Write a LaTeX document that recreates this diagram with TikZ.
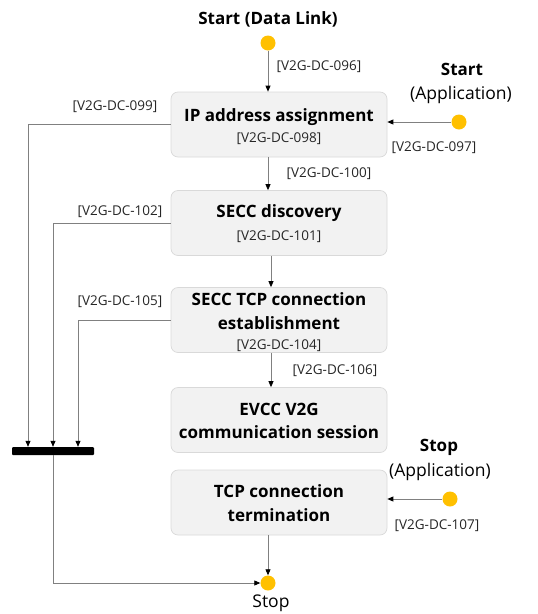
\documentclass[tikz,border=0pt]{standalone}
\usepackage{fontspec}
\setmainfont{Open Sans}
\usetikzlibrary{arrows.meta,calc}
\definecolor{boxfill}{HTML}{F2F2F2}
\definecolor{boxline}{HTML}{D9D9D9}
\definecolor{wire}{HTML}{808080}
\definecolor{dotgold}{HTML}{FFC000}
\tikzset{
  state/.style={draw=boxline, fill=boxfill, rounded corners=7pt, line width=0.7pt,
    minimum width=216pt, minimum height=65pt, inner sep=0pt},
  title/.style={font=\fontsize{17}{20}\selectfont\bfseries, inner sep=0pt},
  ref/.style={font=\fontsize{13.5}{16}\selectfont, inner sep=0pt, text=black!85},
  note/.style={font=\fontsize{17.5}{20}\selectfont, inner sep=0pt},
  pseudo/.style={circle, fill=dotgold, minimum size=15pt, inner sep=0pt},
  wireline/.style={draw=wire, line width=0.8pt},
  arr/.style={wireline, -{Triangle[length=6pt,width=5pt,color=black]}},
}
\begin{document}
\begin{tikzpicture}[x=1pt,y=-1pt]
\useasboundingbox (0,0) rectangle (538,614);

% states
\node[state] (ip)   at (279,124.5) {};
\node[state] (sd)   at (279,223) {};
\node[state] (tcp)  at (279,320) {};
\node[state] (evcc) at (279,420) {};
\node[state] (term) at (279,502.5) {};

\node[title] (ipT)  at (279,117) {IP address assignment};
\node[ref]   (ipR)  at (279,139) {[V2G-DC-098]};
\node[title] (sdT)  at (279,213) {SECC discovery};
\node[ref]   (sdR)  at (279,237) {[V2G-DC-101]};
\node[title] (tcpT1) at (279,299) {SECC TCP connection};
\node[title] (tcpT2) at (279,323) {establishment};
\node[ref]   (tcpR) at (279,346) {[V2G-DC-104]};
\node[title] (evT1) at (279,409) {EVCC V2G};
\node[title] (evT2) at (279,432) {communication session};
\node[title] (tmT1) at (279,491) {TCP connection};
\node[title] (tmT2) at (279,515) {termination};

% start / stop pseudo states
\node[pseudo] (sdl)  at (268,43) {};
\node[title]  (sdlL) at (268,19) {Start (Data Link)};
\node[pseudo] (sapp) at (459,122) {};
\node[title]  (sappL1) at (462,69) {Start};
\node[note]   (sappL2) at (461,95) {(Application)};
\node[pseudo] (tapp) at (450,499) {};
\node[title]  (tappL1) at (439,447) {Stop};
\node[note]   (tappL2) at (440,472) {(Application)};
\node[pseudo] (stop) at (268,583) {};
\node[note]   (stopL) at (271,603) {Stop};

% join bar
\node[fill=black, rounded corners=1pt, minimum width=82pt, minimum height=8pt,
      inner sep=0pt] (bar) at (53,451) {};
\coordinate (j1) at (28,451);
\coordinate (j2) at (53,451);
\coordinate (j3) at (78,451);

% transitions
\draw[arr] (sdl) -- (sdl |- ip.north);
\draw[arr] (sapp) -- (ip.east |- sapp);
\draw[arr] (ip.south -| sdl) -- (sd.north -| sdl);
\draw[arr] (sd.south -| 271,0) -- (tcp.north -| 271,0);
\draw[arr] (tcp.south -| 271,0) -- (evcc.north -| 271,0);
\draw[arr] (tapp) -- (term.east |- tapp);
\draw[arr] (term.south -| stop) -- (stop.north);
\draw[arr] (ip.west) -| (j1 |- bar.north);
\draw[arr] (sd.west) -| (j2 |- bar.north);
\draw[arr] (tcp.west) -| (j3 |- bar.north);
\draw[arr] (bar.south -| j2) |- (stop.west);

% requirement labels
\node[ref] (r096) at (319,67) {[V2G-DC-096]};
\node[ref] (r097) at (434,148) {[V2G-DC-097]};
\node[ref] (r099) at (115,107) {[V2G-DC-099]};
\node[ref] (r100) at (329,174) {[V2G-DC-100]};
\node[ref] (r102) at (120,212) {[V2G-DC-102]};
\node[ref] (r105) at (120,302) {[V2G-DC-105]};
\node[ref] (r106) at (335,371) {[V2G-DC-106]};
\node[ref] (r107) at (437,526) {[V2G-DC-107]};
\end{tikzpicture}
\end{document}
